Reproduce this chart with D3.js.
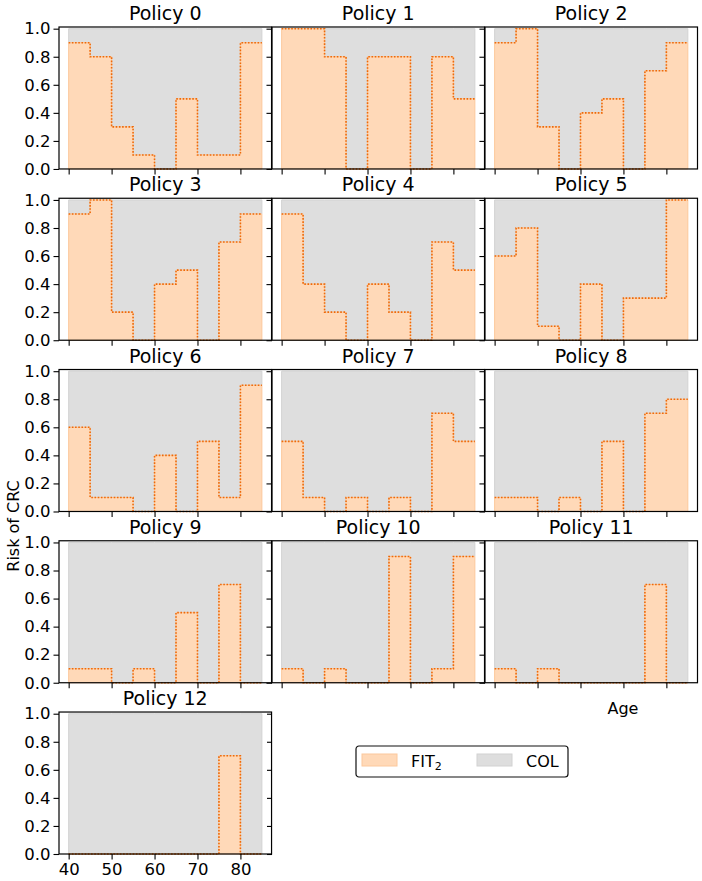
<!DOCTYPE html>
<html>
<head>
<meta charset="utf-8">
<script src="https://cdn.jsdelivr.net/npm/d3@7"></script>
<style>
  body { margin: 0; background: #fff; }
  text { font-family: "DejaVu Sans", sans-serif; fill: #000; }
</style>
</head>
<body>
<div id="chart"></div>
<script>
//Age bins (start of each 5 year band), the last band ends at 85
var ages = [40, 45, 50, 55, 60, 65, 70, 75, 80];
var ageEnd = 85;

//FIT_2 risk threshold per age band, one array per policy
var policy0  = [0.9, 0.8, 0.3, 0.1, 0.0, 0.5, 0.1, 0.1, 0.9];
var policy1  = [1.0, 1.0, 0.8, 0.0, 0.8, 0.8, 0.0, 0.8, 0.5];
var policy2  = [0.9, 1.0, 0.3, 0.0, 0.4, 0.5, 0.0, 0.7, 0.9];
var policy3  = [0.9, 1.0, 0.2, 0.0, 0.4, 0.5, 0.0, 0.7, 0.9];
var policy4  = [0.9, 0.4, 0.2, 0.0, 0.4, 0.2, 0.0, 0.7, 0.5];
var policy5  = [0.6, 0.8, 0.1, 0.0, 0.4, 0.0, 0.3, 0.3, 1.0];
var policy6  = [0.6, 0.1, 0.1, 0.0, 0.4, 0.0, 0.5, 0.1, 0.9];
var policy7  = [0.5, 0.1, 0.0, 0.1, 0.0, 0.1, 0.0, 0.7, 0.5];
var policy8  = [0.1, 0.1, 0.0, 0.1, 0.0, 0.5, 0.0, 0.7, 0.8];
var policy9  = [0.1, 0.1, 0.0, 0.1, 0.0, 0.5, 0.0, 0.7, 0.0];
var policy10 = [0.1, 0.0, 0.1, 0.0, 0.0, 0.9, 0.0, 0.1, 0.9];
var policy11 = [0.1, 0.0, 0.1, 0.0, 0.0, 0.0, 0.0, 0.7, 0.0];
var policy12 = [0.0, 0.0, 0.0, 0.0, 0.0, 0.0, 0.0, 0.7, 0.0];

var policies = [policy0, policy1, policy2, policy3, policy4, policy5, policy6,
                policy7, policy8, policy9, policy10, policy11, policy12];
var titles = policies.map(function (d, i) { return "Policy " + i; });

//tick labels
var yTicks = [0.0, 0.2, 0.4, 0.6, 0.8, 1.0];
var xTicks = [40, 50, 60, 70, 80];

//legend entries
var legendNames = ["FIT", "COL"];

//colours
var fitFill = "#ffd9b8",
    fitEdge = "#fcc89c",
    fitLine = "#ee6a0a",
    colFill = "#dedede",
    colEdge = "#d2d2d2";

var width = 702, height = 881;

var svg = d3.select("#chart").append("svg")
    .attr("width", width)
    .attr("height", height);

//grid of panels
var colBand = d3.scaleBand().domain([0, 1, 2]).range([59, 697.5]).paddingInner(0.002);
var rowBand = d3.scaleBand().domain([0, 1, 2, 3, 4]).range([27, 854]).paddingInner(0.171);
var pw = colBand.bandwidth(), ph = rowBand.bandwidth();

var x = d3.scaleLinear().domain([37.75, 87.25]).range([0, pw]);
var y = d3.scaleLinear().domain([0, 1.012]).range([ph, 0]);

//step points, the last value is held until 85
function steps(vals) {
    var pts = ages.map(function (a, i) { return [a, vals[i]]; });
    pts.push([ageEnd, vals[vals.length - 1]]);
    return pts;
}

var colArea = d3.area().curve(d3.curveStepAfter)
    .x(function (d) { return x(d[0]); })
    .y0(function (d) { return y(d[1]); })
    .y1(function () { return y(1); });

var fitArea = d3.area().curve(d3.curveStepAfter)
    .x(function (d) { return x(d[0]); })
    .y0(function () { return y(0); })
    .y1(function (d) { return y(d[1]); });

var fitStep = d3.line().curve(d3.curveStepAfter)
    .x(function (d) { return x(d[0]); })
    .y(function (d) { return y(d[1]); });

// extra left ticks of the empty slot next to policy 12
var ghost = [{ r: 4, c: 1 }];

policies.forEach(function (vals, i) {
    var r = Math.floor(i / 3), c = i % 3;
    var g = svg.append("g")
        .attr("transform", "translate(" + colBand(c) + "," + rowBand(r) + ")");
    var pts = steps(vals);

    g.append("path").attr("d", colArea(pts))
        .attr("fill", colFill).attr("stroke", colEdge).attr("stroke-width", 1);
    g.append("path").attr("d", fitArea(pts))
        .attr("fill", fitFill).attr("stroke", fitEdge).attr("stroke-width", 1);
    g.append("path").attr("d", fitStep(pts))
        .attr("fill", "none").attr("stroke", fitLine)
        .attr("stroke-width", 1.6).attr("stroke-dasharray", "1.6,1.6");

    //y axis
    var ya = g.append("g").call(d3.axisLeft(y).tickValues(yTicks).tickSize(5.5).tickPadding(3)
        .tickFormat(c === 0 ? d3.format(".1f") : ""));
    //x axis
    var xa = g.append("g").attr("transform", "translate(0," + ph + ")")
        .call(d3.axisBottom(x).tickValues(xTicks).tickSize(5.5).tickPadding(4)
        .tickFormat(i === 12 ? d3.format("d") : ""));
    [ya, xa].forEach(function (a) {
        a.select(".domain").remove();
        a.selectAll("line").attr("stroke", "#000").attr("stroke-width", 1.1);
        a.selectAll("text").style("font-size", "16.5px").attr("fill", "#000")
            .style("font-family", "DejaVu Sans");
    });

    //frame
    g.append("rect").attr("width", pw).attr("height", ph)
        .attr("fill", "none").attr("stroke", "#000").attr("stroke-width", 1.2);

    //title
    g.append("text").attr("x", pw / 2).attr("y", -7)
        .attr("text-anchor", "middle").style("font-size", "19px")
        .text(titles[i]);
});

ghost.forEach(function (d) {
    svg.append("g")
        .attr("transform", "translate(" + colBand(d.c) + "," + rowBand(d.r) + ")")
        .call(d3.axisLeft(y).tickValues(yTicks).tickSize(5).tickFormat(""))
        .call(function (a) {
            a.select(".domain").remove();
            a.selectAll("line").attr("stroke", "#000").attr("stroke-width", 1.1);
        });
});

//axis labels
svg.append("text")
    .attr("transform", "translate(18.5,526) rotate(-90)")
    .attr("text-anchor", "middle").style("font-size", "16px")
    .text("Risk of CRC");
svg.append("text").attr("x", 623).attr("y", 714)
    .attr("text-anchor", "middle").style("font-size", "16px")
    .text("Age");

//legend
var lg = svg.append("g").attr("transform", "translate(356,746)");
lg.append("rect").attr("width", 212).attr("height", 31).attr("rx", 3)
    .attr("fill", "#fff").attr("stroke", "#111").attr("stroke-width", 1.2);
var legendX = d3.scalePoint().domain(legendNames).range([6, 121]);
var legendFill = d3.scaleOrdinal().domain(legendNames).range([fitFill, colFill]);
var legendEdge = d3.scaleOrdinal().domain(legendNames).range([fitEdge, colEdge]);
legendNames.forEach(function (n) {
    lg.append("rect").attr("x", legendX(n)).attr("y", 8).attr("width", 35).attr("height", 12)
        .attr("fill", legendFill(n)).attr("stroke", legendEdge(n)).attr("stroke-width", 1);
    var t = lg.append("text").attr("x", legendX(n) + 49).attr("y", 20.5)
        .style("font-size", "16px").text(n);
    if (n === "FIT") {
        t.append("tspan").attr("dy", 3.5).style("font-size", "11px").text("2");
    }
});
</script>
</body>
</html>
